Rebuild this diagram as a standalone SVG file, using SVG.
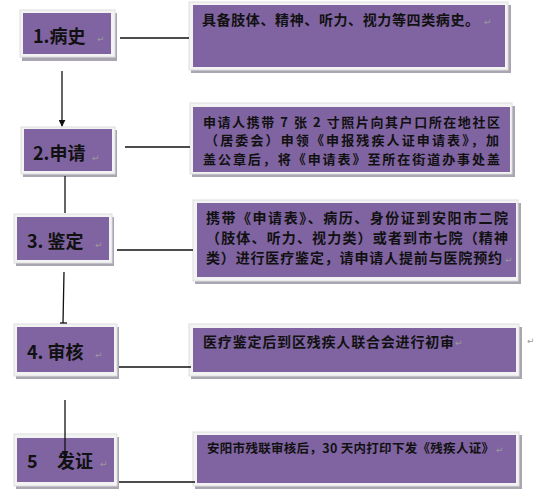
<svg xmlns="http://www.w3.org/2000/svg" width="539" height="502" viewBox="0 0 539 502">
<defs>
<style>
.sh{fill:#a9a5b1}
.fr{fill:#f3f3f3;stroke:#dedede;stroke-width:1}
.in{fill:#8064A2}
.lbl{font-family:"Noto Sans CJK SC","Liberation Sans",sans-serif;font-weight:bold;font-size:18px;fill:#111}
.txt{font-family:"Noto Sans CJK SC","Liberation Sans",sans-serif;font-weight:bold;font-size:14px;fill:#111}
.t2{font-size:13px}
.sm{font-family:"Noto Sans CJK SC","Liberation Sans",sans-serif;font-weight:bold;font-size:12.5px;fill:#111}
.rt{font-family:"DejaVu Sans",sans-serif;font-size:9px;fill:#9a9a9a}
.ln{stroke:#111;stroke-width:1.3;fill:none}
</style>
<marker id="ah" viewBox="0 0 10 10" refX="9" refY="5" markerWidth="7" markerHeight="7" orient="auto" markerUnits="userSpaceOnUse">
<path d="M0,0 L10,5 L0,10 z" fill="#111"/>
</marker>
</defs>
<rect width="539" height="502" fill="#fff"/>

<g id="n1">
<rect class="sh" x="22" y="13" width="95" height="48"/>
<rect class="fr" x="20" y="10" width="95" height="47"/>
<rect class="in" x="23" y="13" width="88" height="41"/>
<text class="lbl" x="33" y="43">1.病史</text>
<text class="rt" x="97" y="42">↵</text>
</g>
<g id="d1">
<rect class="sh" x="191" y="5" width="320" height="68"/>
<rect class="fr" x="189" y="2" width="319" height="68"/>
<rect class="in" x="193" y="5" width="312" height="62"/>
<text class="txt" x="202" y="25" textLength="277">具备肢体、精神、听力、视力等四类病史。</text>
<text class="rt" x="484" y="25">↵</text>
</g>

<g id="n2">
<rect class="sh" x="23" y="130" width="94" height="47"/>
<rect class="fr" x="21" y="127" width="94" height="47"/>
<rect class="in" x="24" y="129" width="88" height="42"/>
<text class="lbl" x="33" y="160">2.申请</text>
<text class="rt" x="92" y="161">↵</text>
</g>
<g id="d2">
<rect class="sh" x="192" y="106" width="323" height="71"/>
<rect class="fr" x="190" y="103" width="322" height="71"/>
<rect class="in" x="193" y="107" width="317" height="65"/>
<text class="txt t2" x="203" y="126.5" textLength="297">申请人携带 7 张 2 寸照片向其户口所在地社区</text>
<text class="txt t2" x="205" y="145" textLength="294">（居委会）申领《申报残疾人证申请表》，加</text>
<text class="txt t2" x="203" y="163.5" textLength="297">盖公章后，将《申请表》至所在街道办事处盖</text>
</g>

<g id="n3">
<rect class="sh" x="16" y="217" width="98" height="49"/>
<rect class="fr" x="14" y="214" width="98" height="49"/>
<rect class="in" x="17" y="217" width="92" height="43"/>
<text class="lbl" x="27" y="248">3. 鉴定</text>
<text class="rt" x="95" y="248">↵</text>
</g>
<g id="d3">
<rect class="sh" x="195" y="203" width="326" height="81"/>
<rect class="fr" x="193" y="200" width="325" height="81"/>
<rect class="in" x="197" y="203" width="319" height="74"/>
<text class="txt" x="206" y="223" textLength="302">携带《申请表》、病历、身份证到安阳市二院</text>
<text class="txt" x="206" y="243" textLength="302">（肢体、听力、视力类）或者到市七院（精神</text>
<text class="txt" x="206" y="263" textLength="296">类）进行医疗鉴定，请申请人提前与医院预约</text>
<text class="rt" x="505" y="263">↵</text>
</g>

<g id="n4">
<rect class="sh" x="16" y="327" width="103" height="52"/>
<rect class="fr" x="14" y="324" width="103" height="52"/>
<rect class="in" x="17" y="327" width="97" height="45"/>
<text class="lbl" x="27" y="359">4. 审核</text>
<text class="rt" x="95" y="358">↵</text>
</g>
<g id="d4">
<rect class="sh" x="191" y="327" width="331" height="52"/>
<rect class="fr" x="189" y="324" width="330" height="52"/>
<rect class="in" x="193" y="328" width="323" height="44"/>
<text class="txt" x="203" y="347" textLength="251">医疗鉴定后到区残疾人联合会进行初审</text>
<text class="rt" x="455" y="346">↵</text>
</g>
<text class="rt" x="527" y="344">↵</text>

<g id="n5">
<rect class="sh" x="16" y="437" width="103" height="52"/>
<rect class="fr" x="14" y="434" width="103" height="52"/>
<rect class="in" x="17" y="438" width="97" height="44"/>
<text class="lbl" x="27" y="468">5</text>
<text class="lbl" x="57" y="468">发证</text>
<text class="rt" x="100" y="467">↵</text>
</g>
<g id="d5">
<rect class="sh" x="195" y="435" width="327" height="54"/>
<rect class="fr" x="193" y="432" width="326" height="54"/>
<rect class="in" x="197" y="435" width="319" height="48"/>
<text class="sm" x="207" y="453" textLength="287">安阳市残联审核后，30 天内打印下发《残疾人证》</text>
<text class="rt" x="496" y="453">↵</text>
</g>

<g id="connectors">
<line class="ln" x1="120" y1="38" x2="189" y2="38"/>
<line class="ln" x1="62" y1="71" x2="62" y2="126" marker-end="url(#ah)"/>
<line class="ln" x1="125" y1="147" x2="190" y2="147"/>
<line class="ln" x1="65" y1="176" x2="65" y2="213"/>
<line class="ln" x1="117" y1="250" x2="193" y2="250"/>
<line class="ln" x1="64" y1="272" x2="63" y2="323"/>
<line class="ln" x1="60" y1="323" x2="67" y2="323"/>
<line class="ln" x1="119" y1="367" x2="191" y2="367"/>
<line class="ln" x1="65" y1="400" x2="65" y2="457" marker-end="url(#ah)"/>
<line class="ln" x1="119" y1="482" x2="195" y2="482"/>
</g>
</svg>
